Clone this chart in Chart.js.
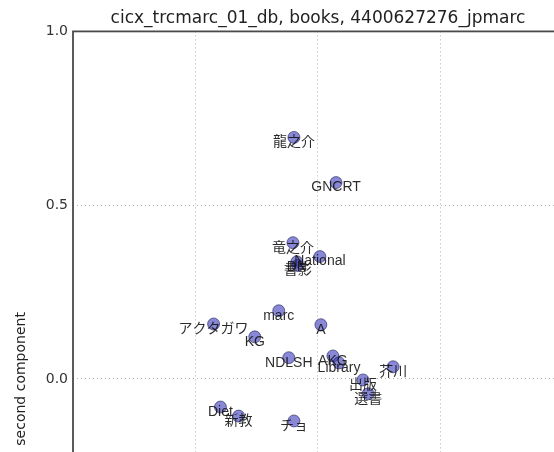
<!DOCTYPE html>
<html>
<head>
<meta charset="utf-8">
<script src="https://cdn.jsdelivr.net/npm/chart.js@4"></script>
<style>
    html, body { margin: 0; padding: 0; overflow: hidden; background: #fff; }
    canvas { display: block; }
</style>
</head>
<body>
<canvas id="pcaChart" width="636" height="790"></canvas>
<script>
// term labels and their first / second component values
const labels = ['龍之介', 'GNCRT', '竜之介', 'National', 'DN', '書影', 'marc', 'アクタガワ', 'KG', 'A',
    'NDLSH', 'AKG', 'Library', '芥川', '出版', '選書', 'Diet', '新教', 'チョ'];
const xValues = [-0.098, 0.074, -0.102, 0.008, -0.086, -0.082, -0.160, -0.426, -0.258, 0.012,
    -0.119, 0.061, 0.086, 0.307, 0.184, 0.205, -0.398, -0.324, -0.098];
const yValues = [0.695, 0.565, 0.392, 0.352, 0.337, 0.326, 0.196, 0.158, 0.121, 0.156,
    0.061, 0.066, 0.046, 0.035, -0.003, -0.043, -0.081, -0.107, -0.121];
const xRange = [-1.0, 1.27];
const yRange = [-1.0, 1.0];
const tickStep = 0.5;

const points = xValues.map((x, i) => ({ x: x, y: yValues[i] }));

// text next to each point, placed through the scales
const pointLabels = {
    id: 'pointLabels',
    afterDatasetsDraw(chart) {
        const ctx = chart.ctx;
        const meta = chart.getDatasetMeta(0);
        ctx.save();
        ctx.font = "14px 'Liberation Sans', 'Noto Sans CJK JP', sans-serif";
        ctx.fillStyle = 'rgba(20,20,20,0.9)';
        ctx.textAlign = 'center';
        ctx.textBaseline = 'top';
        meta.data.forEach((pt, i) => ctx.fillText(labels[i], pt.x, pt.y - 2));
        ctx.restore();
    }
};

// axes frame like matplotlib
const frame = {
    id: 'frame',
    beforeDatasetsDraw(chart) {
        const { left, top, right, bottom } = chart.chartArea;
        const ctx = chart.ctx;
        ctx.save();
        ctx.strokeStyle = '#4a4a4a';
        ctx.lineWidth = 1.8;
        ctx.strokeRect(left, top, right - left, bottom - top);
        ctx.restore();
    }
};

const gridStyle = {
    color: '#b0b0b0',
    lineWidth: 1,
    drawTicks: false
};

new Chart(document.getElementById('pcaChart'), {
    type: 'scatter',
    data: {
        datasets: [{
            data: points,
            backgroundColor: 'rgba(50,50,185,0.58)',
            borderColor: 'rgba(0,0,60,0.5)',
            borderWidth: 1,
            pointRadius: 6,
            pointHoverRadius: 6
        }]
    },
    options: {
        responsive: false,
        animation: false,
        devicePixelRatio: 1,
        layout: { padding: { left: 0, right: 0, top: 0, bottom: 10 } },
        plugins: {
            legend: { display: false },
            tooltip: { enabled: false },
            title: {
                display: true,
                text: 'cicx_trcmarc_01_db, books, 4400627276_jpmarc',
                color: '#222',
                font: { family: "'DejaVu Sans', sans-serif", size: 17, weight: 'normal' },
                padding: { top: 8, bottom: 3 }
            }
        },
        scales: {
            x: {
                type: 'linear',
                min: xRange[0],
                max: xRange[1],
                grid: gridStyle,
                border: { display: false, dash: [1, 3] },
                ticks: {
                    stepSize: tickStep,
                    includeBounds: false,
                    color: '#333',
                    padding: 6,
                    font: { family: "'DejaVu Sans', sans-serif", size: 14 },
                    callback: v => v.toFixed(1)
                },
                title: {
                    display: true,
                    text: 'first component',
                    color: '#222',
                    font: { family: "'DejaVu Sans', sans-serif", size: 14 }
                }
            },
            y: {
                type: 'linear',
                min: yRange[0],
                max: yRange[1],
                grid: gridStyle,
                border: { display: false, dash: [1, 3] },
                afterFit(scale) { scale.width = 73; },
                ticks: {
                    stepSize: tickStep,
                    color: '#333',
                    padding: 5,
                    font: { family: "'DejaVu Sans', sans-serif", size: 14 },
                    callback: v => v.toFixed(1)
                },
                title: {
                    display: true,
                    text: 'second component',
                    color: '#222',
                    font: { family: "'DejaVu Sans', sans-serif", size: 14 },
                    padding: { top: 13, bottom: 0 }
                }
            }
        }
    },
    plugins: [frame, pointLabels]
});
</script>
</body>
</html>
